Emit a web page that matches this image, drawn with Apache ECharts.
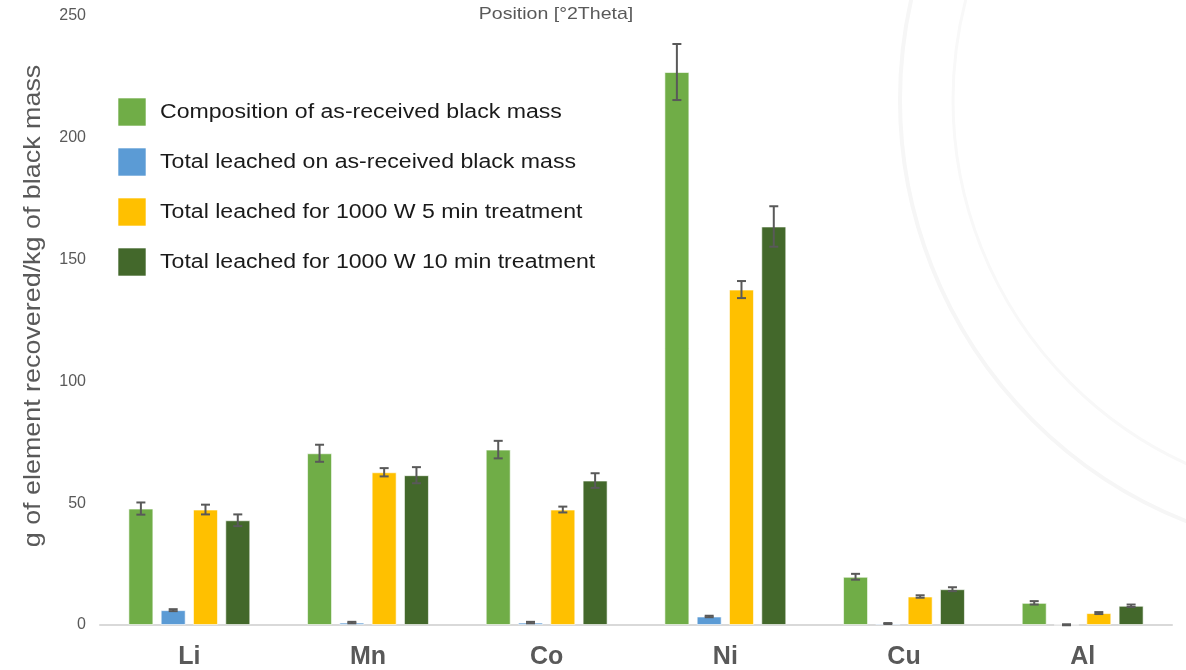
<!DOCTYPE html>
<html>
<head>
<meta charset="utf-8">
<script src="https://cdn.jsdelivr.net/npm/echarts@6/dist/echarts.min.js"></script>
<style>
  html, body { margin: 0; padding: 0; background: #ffffff; }
  #chart { width: 1186px; height: 670px; }
</style>
</head>
<body>
<div id="chart"></div>
<script>
// Elements analysed
const categories = ['Li', 'Mn', 'Co', 'Ni', 'Cu', 'Al'];

// g of element per kg of black mass, with standard deviations
const composition    = [47.8, 70.5, 72.0, 227.0, 19.8, 9.1];
const compositionErr = [2.5, 3.5, 3.6, 11.5, 1.2, 0.7];

const leachedRaw    = [6.1, 1.0, 1.0, 3.5, 0.6, 0.1];
const leachedRawErr = [0.4, 0.3, 0.3, 0.3, 0.2, 0.2];

const leached5    = [47.4, 62.7, 47.4, 137.7, 11.7, 4.9];
const leached5Err = [2.0, 1.7, 1.2, 3.5, 0.5, 0.4];

const leached10    = [43.0, 61.5, 59.3, 163.6, 14.7, 7.9];
const leached10Err = [2.4, 3.3, 3.0, 8.3, 0.8, 0.5];

const yTicks = [0, 50, 100, 150, 200, 250];

const seriesNames = [
  'Composition of as-received black mass',
  'Total leached on as-received black mass',
  'Total leached for 1000 W 5 min treatment',
  'Total leached for 1000 W 10 min treatment'
];
const colors = ['#70AD47', '#5B9BD5', '#FFC000', '#43682B'];
const values = [composition, leachedRaw, leached5, leached10];
const errors = [compositionErr, leachedRawErr, leached5Err, leached10Err];

const BAR_W = 25;
const BAR_GAP = 7.3;
const FONT = 'Liberation Sans, Arial, sans-serif';

const chart = echarts.init(document.getElementById('chart'), null, { renderer: 'canvas' });

// Whiskers drawn on top of each bar series, shifted to that bar's slot in the group
function errorBarSeries(idx) {
  const offset = (idx - 1.5) * (BAR_W + BAR_GAP);
  return {
    type: 'custom',
    name: seriesNames[idx] + ' error',
    z: 5,
    silent: true,
    data: values[idx].map((v, i) => [i, v - errors[idx][i], v + errors[idx][i]]),
    renderItem: function (params, api) {
      const lo = api.coord([api.value(0), api.value(1)]);
      const hi = api.coord([api.value(0), api.value(2)]);
      const x = lo[0] + offset;
      const cap = 4.5;
      const style = { stroke: '#595959', lineWidth: 2 };
      return {
        type: 'group',
        children: [
          { type: 'line', shape: { x1: x, y1: hi[1], x2: x, y2: lo[1] }, style: style },
          { type: 'line', shape: { x1: x - cap, y1: hi[1], x2: x + cap, y2: hi[1] }, style: style },
          { type: 'line', shape: { x1: x - cap, y1: lo[1], x2: x + cap, y2: lo[1] }, style: style }
        ]
      };
    }
  };
}

const barSeries = values.map((vals, idx) => ({
  type: 'bar',
  name: seriesNames[idx],
  data: vals,
  barWidth: BAR_W,
  barGap: (BAR_GAP / BAR_W * 100).toFixed(1) + '%',
  itemStyle: { color: colors[idx], borderColor: 'rgba(255,255,255,0.6)', borderWidth: 1 }
}));

// Legend: colour swatch + slightly widened label, stacked on the left
const legendItems = seriesNames.map((name, idx) => ({
  type: 'group',
  x: 118,
  y: 98 + idx * 50,
  silent: true,
  children: [
    { type: 'rect', shape: { x: 0, y: 0, width: 28, height: 28 },
      style: { fill: colors[idx], stroke: 'rgba(255,255,255,0.6)', lineWidth: 1 } },
    { type: 'text', x: 42, y: 14, scaleX: 1.155,
      style: { text: name, fontSize: 20, fill: '#1a1a1a', fontFamily: FONT,
               verticalAlign: 'middle', align: 'left' } }
  ]
}));

const option = {
  backgroundColor: '#ffffff',
  animation: false,
  textStyle: { fontFamily: FONT },
  grid: { left: 100, right: 14, top: 16, bottom: 44, containLabel: false },
  xAxis: {
    type: 'category',
    data: categories,
    axisLine: { lineStyle: { color: '#d9d9d9', width: 2 } },
    axisTick: { show: false },
    axisLabel: { fontSize: 25, fontWeight: 'bold', color: '#595959', margin: 20 }
  },
  yAxis: {
    type: 'value',
    min: yTicks[0],
    max: yTicks[yTicks.length - 1],
    interval: 50,
    splitLine: { show: false },
    axisLine: { show: false },
    axisTick: { show: false },
    axisLabel: { fontSize: 16, color: '#595959', margin: 14 }
  },
  graphic: [
    // faint seal in the background
    {
      type: 'circle', silent: true, z: -10,
      shape: { cx: 1353, cy: 100, r: 453 },
      style: { fill: 'none', stroke: '#f6f6f6', lineWidth: 4 }
    },
    {
      type: 'circle', silent: true, z: -10,
      shape: { cx: 1353, cy: 100, r: 400 },
      style: { fill: 'none', stroke: '#f8f8f8', lineWidth: 3 }
    },
    {
      type: 'text', silent: true,
      x: 556, y: 14, scaleX: 1.15,
      style: { text: 'Position [°2Theta]', fontSize: 17, fill: '#595959',
               fontFamily: FONT, align: 'center', verticalAlign: 'middle' }
    },
    {
      type: 'text', silent: true,
      x: 33, y: 306,
      rotation: Math.PI / 2,
      scaleX: 1.12,
      style: {
        text: 'g of element recovered/kg of black mass',
        fontSize: 24, fill: '#595959', fontFamily: FONT,
        align: 'center', verticalAlign: 'middle'
      }
    }
  ].concat(legendItems),
  series: barSeries.concat(values.map((_, idx) => errorBarSeries(idx)))
};

chart.setOption(option);
</script>
</body>
</html>
